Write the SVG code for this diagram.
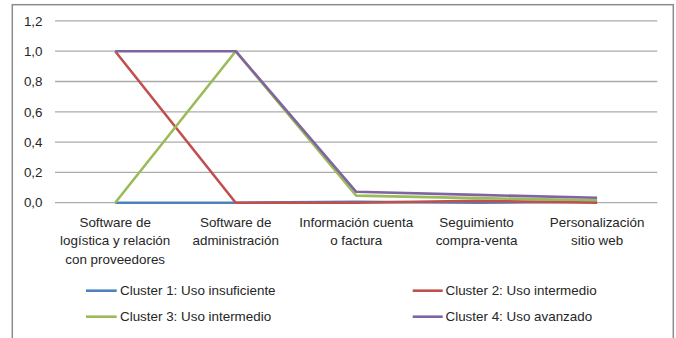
<svg xmlns="http://www.w3.org/2000/svg" width="676" height="338" viewBox="0 0 676 338">
  <style>
    text { font-family: "Liberation Sans", Arial, sans-serif; font-size: 13.4px; fill: #262626; }
    .ytick { text-anchor: end; }
    .cat { text-anchor: middle; }
    .grid { stroke: #ababab; stroke-width: 1.3; fill: none; }
    .series { fill: none; stroke-width: 2.6; stroke-linejoin: round; stroke-linecap: butt; }
    .s1 { stroke: #4f81bd; }
    .s2 { stroke: #c0504d; }
    .s3 { stroke: #9bbb59; }
    .s4 { stroke: #8064a2; }
  </style>
  <rect x="0" y="0" width="676" height="338" fill="#ffffff"/>
  <rect id="frame" x="12.3" y="4.7" width="661" height="340" fill="#ffffff" stroke="#8c8c8c" stroke-width="1.5"/>

  <g id="gridlines">
    <line class="grid" x1="55" y1="20.9" x2="657.3" y2="20.9"/>
    <line class="grid" x1="55" y1="51.2" x2="657.3" y2="51.2"/>
    <line class="grid" x1="55" y1="81.5" x2="657.3" y2="81.5"/>
    <line class="grid" x1="55" y1="111.8" x2="657.3" y2="111.8"/>
    <line class="grid" x1="55" y1="142.1" x2="657.3" y2="142.1"/>
    <line class="grid" x1="55" y1="172.4" x2="657.3" y2="172.4"/>
    <line class="grid" x1="55" y1="202.7" x2="657.3" y2="202.7"/>
  </g>

  <g id="y-axis-labels">
    <text class="ytick" x="42.5" y="25.6">1,2</text>
    <text class="ytick" x="42.5" y="55.9">1,0</text>
    <text class="ytick" x="42.5" y="86.2">0,8</text>
    <text class="ytick" x="42.5" y="116.5">0,6</text>
    <text class="ytick" x="42.5" y="146.8">0,4</text>
    <text class="ytick" x="42.5" y="177.1">0,2</text>
    <text class="ytick" x="42.5" y="207.4">0,0</text>
  </g>

  <g id="x-axis-labels">
    <g id="cat1">
      <text class="cat" x="115.2" y="226.5">Software de</text>
      <text class="cat" x="115.2" y="245">logística y relación</text>
      <text class="cat" x="115.2" y="263.5">con proveedores</text>
    </g>
    <g id="cat2">
      <text class="cat" x="235.7" y="226.5">Software de</text>
      <text class="cat" x="235.7" y="245">administración</text>
    </g>
    <g id="cat3">
      <text class="cat" x="356.2" y="226.5">Información cuenta</text>
      <text class="cat" x="356.2" y="245">o factura</text>
    </g>
    <g id="cat4">
      <text class="cat" x="476.6" y="226.5">Seguimiento</text>
      <text class="cat" x="476.6" y="245">compra-venta</text>
    </g>
    <g id="cat5">
      <text class="cat" x="597.1" y="226.5">Personalización</text>
      <text class="cat" x="597.1" y="245">sitio web</text>
    </g>
  </g>

  <g id="connectors">
    <polyline id="cluster1" class="series s1" points="115.2,202.7 235.7,202.7 356.2,201.7 476.6,202.7 597.1,201.4"/>
    <polyline id="cluster2" class="series s2" points="115.2,51.2 235.7,202.7 356.2,202.7 476.6,200.9 597.1,202.7"/>
    <polyline id="cluster3" class="series s3" points="115.2,202.7 235.7,51.2 356.2,195.6 476.6,198.1 597.1,200.3"/>
    <polyline id="cluster4" class="series s4" points="115.2,51.2 235.7,51.2 356.2,191.8 476.6,194.9 597.1,197.7"/>
  </g>

  <g id="legend">
    <g id="legend-c1">
      <line class="series s1" x1="86" y1="290.7" x2="116.7" y2="290.7"/>
      <text x="120" y="294.9">Cluster 1: Uso insuficiente</text>
    </g>
    <g id="legend-c2">
      <line class="series s2" x1="412.7" y1="290.7" x2="442.7" y2="290.7"/>
      <text x="445.5" y="294.9">Cluster 2: Uso intermedio</text>
    </g>
    <g id="legend-c3">
      <line class="series s3" x1="86" y1="316.7" x2="116.7" y2="316.7"/>
      <text x="120" y="320.9">Cluster 3: Uso intermedio</text>
    </g>
    <g id="legend-c4">
      <line class="series s4" x1="412.7" y1="316.7" x2="442.7" y2="316.7"/>
      <text x="445.5" y="320.9">Cluster 4: Uso avanzado</text>
    </g>
  </g>
</svg>
